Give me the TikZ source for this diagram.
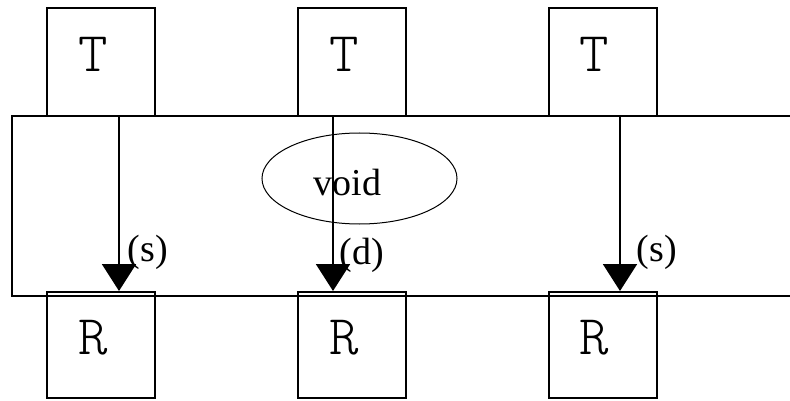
\documentclass[tikz,border=0pt]{standalone}
\usepackage{fontspec}
\setmainfont{Liberation Serif}
\newfontfamily\lightmono{Latin Modern Mono Light}
\usetikzlibrary{arrows.meta,shapes.geometric}
\begin{document}
\begin{tikzpicture}[x=1pt,y=-1pt,
  box/.style={draw,line width=2pt,minimum width=108pt,minimum height=108pt,inner sep=0pt},
  rbox/.style={box,minimum height=106pt},
  boxtxt/.style={font=\lightmono\fontsize{56}{56}\selectfont,inner sep=0pt},
  arr/.style={line width=2pt,-{Triangle[width=34pt,length=27pt]}},
  lab/.style={font=\fontsize{38}{38}\selectfont,inner sep=0pt}]
\useasboundingbox (0,0) rectangle (790,401);
\clip (0,0) rectangle (790,401);
\draw[line width=2pt] (800,116) -- (12,116) -- (12,296) -- (800,296);
\node[box,label={[boxtxt,xshift=-8pt,yshift=8pt]center:T}] (t1) at (101,62) {};
\node[box,label={[boxtxt,xshift=-8pt,yshift=8pt]center:T}] (t2) at (352,62) {};
\node[box,label={[boxtxt,xshift=-8pt,yshift=8pt]center:T}] (t3) at (602.5,62) {};
\node[rbox,label={[boxtxt,xshift=-8pt,yshift=7pt]center:R}] (r1) at (101,345) {};
\node[rbox,label={[boxtxt,xshift=-8pt,yshift=7pt]center:R}] (r2) at (352,345) {};
\node[rbox,label={[boxtxt,xshift=-8pt,yshift=7pt]center:R}] (r3) at (602.5,345) {};
\node[draw,ellipse,line width=1pt,minimum width=195pt,minimum height=91pt,inner sep=0pt,
  label={[lab,xshift=-12pt,yshift=-4pt]center:void}] (v) at (359.5,178.5) {};
\draw[arr] ([xshift=18pt]t1.south) -- ([xshift=18pt]r1.north);
\draw[arr] ([xshift=-19pt]t2.south) -- ([xshift=-19pt]r2.north);
\draw[arr] ([xshift=17.5pt]t3.south) -- ([xshift=17.5pt]r3.north);
\node[lab] (l1) at (148,252) {(s)};
\node[lab] (l2) at (362,255) {(d)};
\node[lab] (l3) at (657,252) {(s)};
\end{tikzpicture}
\end{document}
